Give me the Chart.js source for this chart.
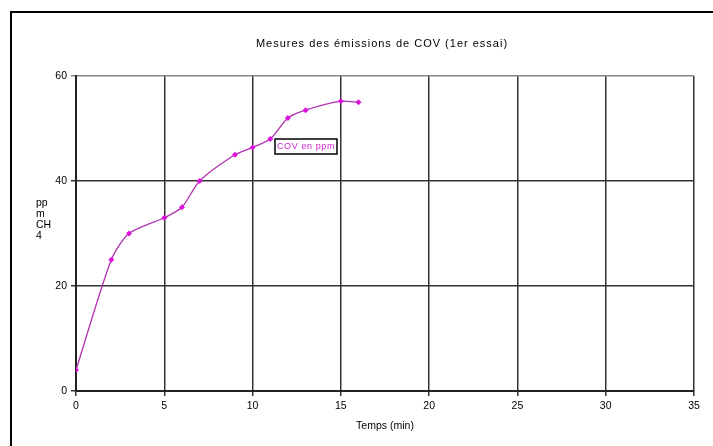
<!DOCTYPE html>
<html>
<head>
<meta charset="utf-8">
<script src="https://cdn.jsdelivr.net/npm/chart.js@4.4.1/dist/chart.umd.min.js"></script>
<style>
  html, body { margin: 0; padding: 0; background: #fff; }
  #wrap { position: relative; width: 713px; height: 446px; overflow: hidden; }
  #frame { position: absolute; left: 10px; top: 11px; width: 800px; height: 600px;
           border-left: 2px solid #000; border-top: 2px solid #000; }
  canvas { position: absolute; left: 0; top: 0; }
</style>
</head>
<body>
<div id="wrap">
  <div id="frame"></div>
  <canvas id="chart" width="713" height="446"></canvas>
</div>
<script>
// Temps (min) et concentration COV (ppm CH4)
const temps = [0, 2, 3, 5, 6, 7, 9, 10, 11, 12, 13, 15, 16];
const cov = [4, 25, 30, 33, 35, 40, 45, 46.4, 48, 52, 53.5, 55.2, 55];
const xTicks = [0, 5, 10, 15, 20, 25, 30, 35];
const yTicks = [0, 20, 40, 60];

const chartTitle = 'Mesures des émissions de COV (1er essai)';
const yTitle = ['pp', 'm', 'CH', '4'];
const seriesLabel = 'COV en ppm';

const textFont = '"Liberation Sans", Arial, sans-serif';

// draws the title, the horizontal y label and the small legend box
const extras = {
    id: 'extras',
    afterDraw(chart) {
        const ctx = chart.ctx;
        ctx.save();
        ctx.fillStyle = '#000';
        ctx.font = '11px ' + textFont;
        ctx.letterSpacing = '1px';
        ctx.textAlign = 'center';
        ctx.textBaseline = 'middle';
        ctx.fillText(chartTitle, 382, 44);

        ctx.letterSpacing = '0px';
        ctx.font = '10.5px ' + textFont;
        ctx.textAlign = 'left';
        yTitle.forEach((line, i) => ctx.fillText(line, 36, 203 + i * 11));

        // legend box
        ctx.lineWidth = 1.5;
        ctx.strokeStyle = '#000';
        ctx.fillStyle = '#fff';
        ctx.fillRect(275, 139, 62, 15);
        ctx.strokeRect(275, 139, 62, 15);
        ctx.fillStyle = '#cc22cc';
        ctx.font = '9px ' + textFont;
        ctx.letterSpacing = '0.6px';
        ctx.textAlign = 'center';
        ctx.fillText(seriesLabel, 306, 147);
        ctx.restore();
    }
};

new Chart(document.getElementById('chart'), {
    type: 'line',
    data: {
        datasets: [{
            label: seriesLabel,
            data: temps.map((t, i) => ({ x: t, y: cov[i] })),
            borderColor: '#b030b0',
            borderWidth: 1.3,
            tension: 0.25,
            pointStyle: 'rectRot',
            pointRadius: 3,
            pointBackgroundColor: '#dd11dd',
            pointBorderColor: '#dd11dd',
            pointBorderWidth: 0
        }]
    },
    options: {
        responsive: false,
        animation: false,
        layout: { padding: { left: 0, right: 19, top: 76, bottom: 0 } },
        plugins: {
            legend: { display: false },
            tooltip: { enabled: false }
        },
        scales: {
            x: {
                type: 'linear',
                min: 0,
                max: 35,
                afterBuildTicks: s => { s.ticks = xTicks.map(v => ({ value: v })); },
                afterFit: s => { s.height = 55; },
                grid: { color: '#333', lineWidth: 1.5, tickLength: 5 },
                border: { color: '#222', width: 2 },
                ticks: { color: '#000', padding: 4, font: { family: textFont, size: 10.5 } },
                title: {
                    display: true,
                    text: 'Temps (min)',
                    color: '#000',
                    padding: { top: 0, bottom: 14 },
                    font: { family: textFont, size: 10.5 }
                }
            },
            y: {
                min: 0,
                max: 60,
                afterBuildTicks: s => { s.ticks = yTicks.map(v => ({ value: v })); },
                afterFit: s => { s.width = 76; },
                grid: {
                    color: ctx => ctx.tick && ctx.tick.value === 60 ? '#888' : '#333',
                    lineWidth: 1.5,
                    tickLength: 5
                },
                border: { color: '#222', width: 2 },
                ticks: { color: '#000', padding: 4, font: { family: textFont, size: 10.5 } }
            }
        }
    },
    plugins: [extras]
});
</script>
</body>
</html>
